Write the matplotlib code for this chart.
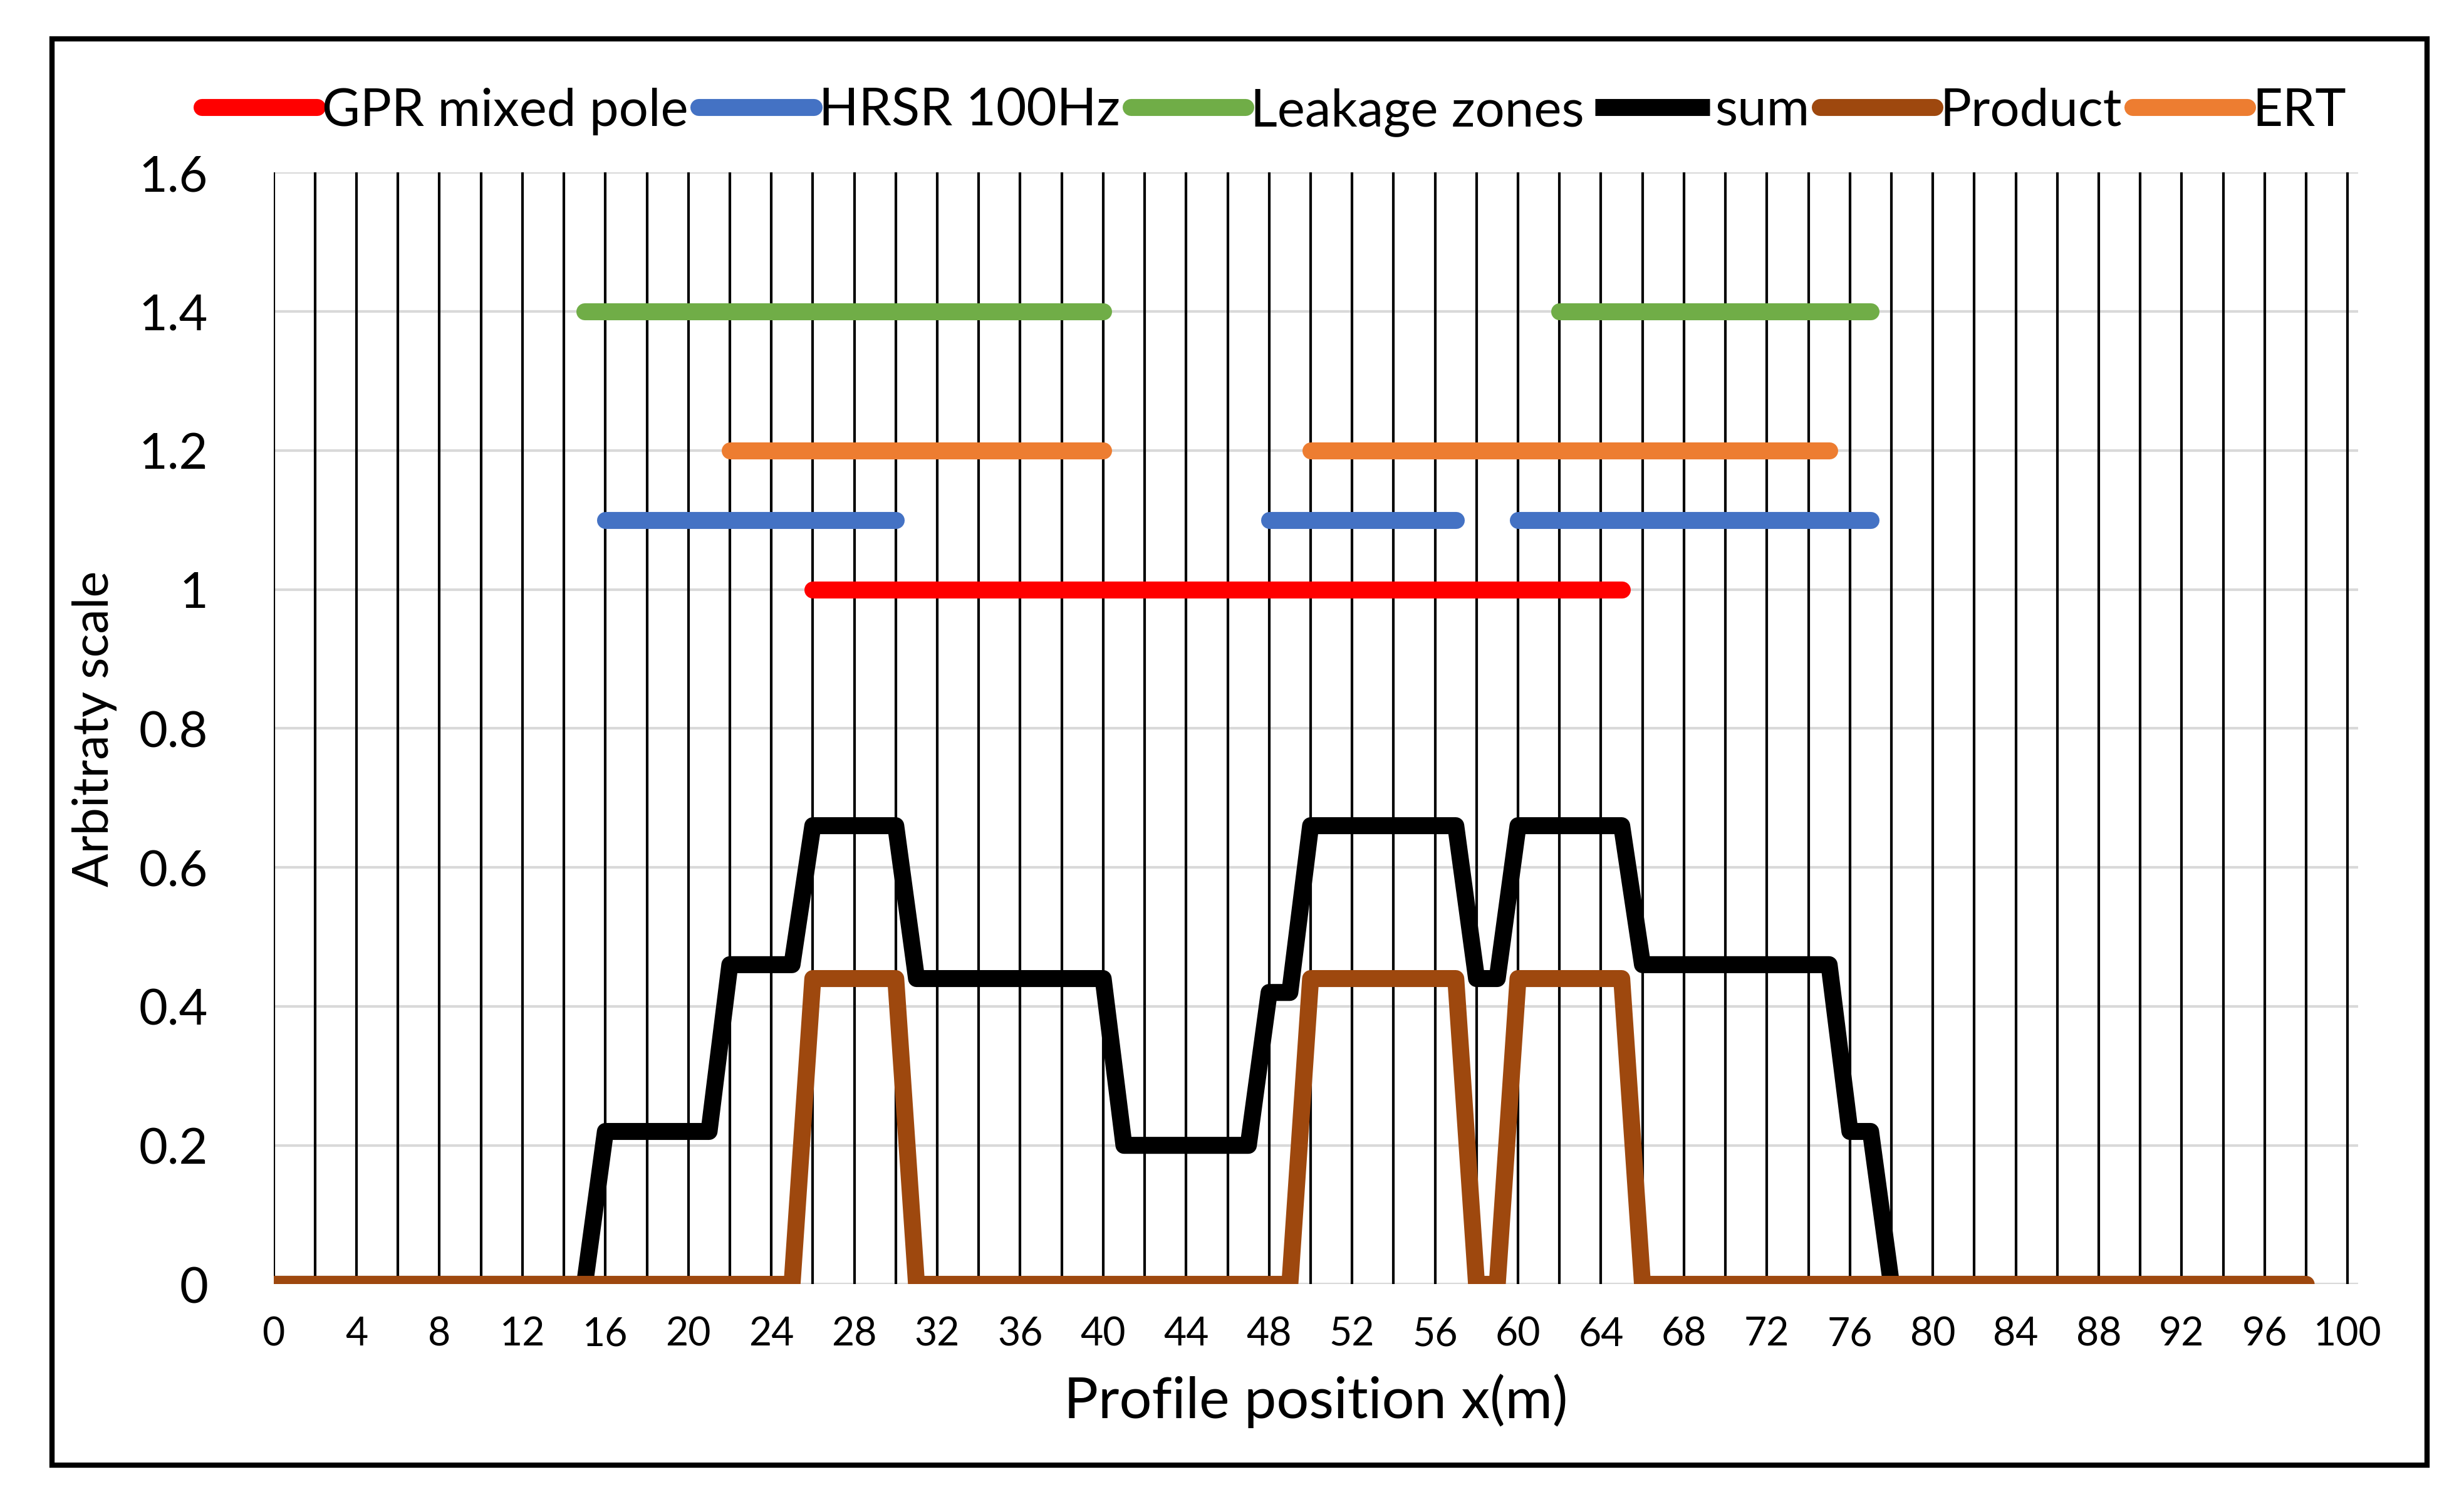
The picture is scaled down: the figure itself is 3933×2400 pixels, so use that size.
import matplotlib.pyplot as plt
from matplotlib.patches import Rectangle

plt.rcParams['font.family'] = ['Lato', 'DejaVu Sans']

# step profiles
sum_x = [0, 15, 16, 21, 22, 25, 26, 30, 31, 40, 41, 47, 48, 49, 50, 57, 58, 59, 60, 65, 66, 75, 76, 77, 78, 98]
sum_y = [0, 0, 0.22, 0.22, 0.46, 0.46, 0.66, 0.66, 0.44, 0.44, 0.2, 0.2, 0.42, 0.42, 0.66, 0.66, 0.44, 0.44, 0.66, 0.66, 0.46, 0.46, 0.22, 0.22, 0, 0]
prod_x = [0, 25, 26, 30, 31, 49, 50, 57, 58, 59, 60, 65, 66, 98]
prod_y = [0, 0, 0.44, 0.44, 0, 0, 0.44, 0.44, 0, 0, 0.44, 0.44, 0, 0]

# interval bars (start, end)
gpr = [(26, 65)]
hrsr = [(16, 30), (48, 57), (60, 77)]
leak = [(15, 40), (62, 77)]
ert = [(22, 40), (50, 75)]

fig = plt.figure(figsize=(13.11, 8.003), dpi=300)
ax = fig.add_axes([0.111, 0.146, 0.846, 0.739])
fig.patches.append(Rectangle((0.021, 0.026), 0.964, 0.948, transform=fig.transFigure,
                             fill=False, edgecolor='black', linewidth=2))

for y in [0.2, 0.4, 0.6, 0.8, 1.0, 1.2, 1.4, 1.6]:
    ax.axhline(y, color='#d9d9d9', lw=1, zorder=0)
for x in range(0, 101, 2):
    ax.axvline(x, color='black', lw=1, zorder=0.5)

lw = 6.5
def bars(segs, y, color, label):
    for i, (a, b) in enumerate(segs):
        ax.plot([a, b], [y, y], color=color, lw=lw, solid_capstyle='round',
                label=label if i == 0 else None, zorder=3)

bars(gpr, 1.0, '#ff0000', 'GPR mixed pole')
bars(hrsr, 1.1, '#4472c4', 'HRSR 100Hz')
bars(leak, 1.4, '#70ad47', 'Leakage zones')
ax.plot(sum_x, sum_y, color='black', lw=lw, solid_capstyle='butt', label='sum', zorder=3)
ax.plot(prod_x, prod_y, color='#9e480e', lw=lw, solid_capstyle='round', label='Product', zorder=4)
bars(ert, 1.2, '#ed7d31', 'ERT')

ax.set_xlim(0, 100.5)
ax.set_ylim(0, 1.6)
ax.set_xticks(range(0, 101, 4))
ax.set_yticks([0, 0.2, 0.4, 0.6, 0.8, 1.0, 1.2, 1.4, 1.6])
ax.set_yticklabels(['0', '0.2', '0.4', '0.6', '0.8', '1', '1.2', '1.4', '1.6'])
ax.tick_params(axis='x', length=0, labelsize=15, pad=12)
ax.tick_params(axis='y', length=0, labelsize=19, pad=25)
for s in ax.spines.values():
    s.set_visible(False)
ax.axhline(0, color='#d9d9d9', lw=1, zorder=0)

ax.set_xlabel('Profile position x(m)', fontsize=22, labelpad=8)
ax.set_ylabel('Arbitraty scale', fontsize=19)
ax.yaxis.set_label_coords(-0.075, 0.5)

ax.legend(loc='lower center', bbox_to_anchor=(0.48, 1.0), ncol=6, frameon=False,
          fontsize=20, handlelength=2.2, handletextpad=0.1, columnspacing=0.2,
          borderaxespad=0.3)

fig.savefig('out.png', dpi=300)
